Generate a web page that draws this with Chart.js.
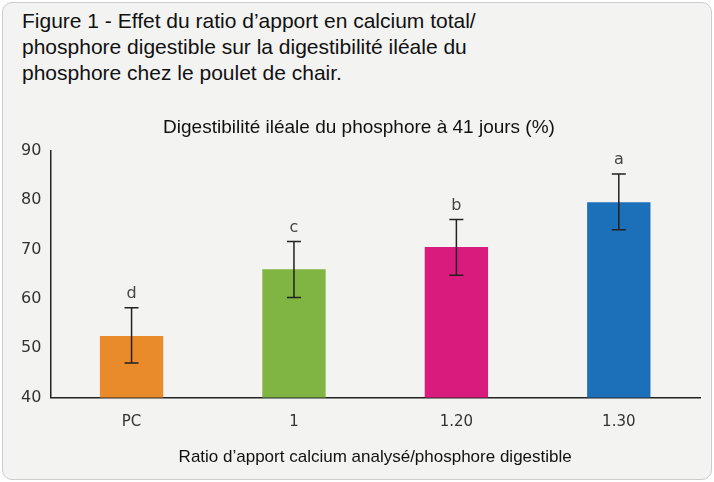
<!DOCTYPE html>
<html><head><meta charset="utf-8">
<script src="https://cdn.jsdelivr.net/npm/chart.js@4"></script>
<style>
html,body{margin:0;padding:0;background:#fff;}
#wrap{position:absolute;left:2px;top:2px;width:708px;height:476px;background:#f3f3f1;border:1px solid #ccc;border-radius:10px;}
#ft{position:absolute;left:22px;top:8px;font-family:"Liberation Sans",Arial,sans-serif;font-size:21px;line-height:26px;color:#111;}
canvas{position:absolute;left:0;top:0;}
</style></head><body>
<div id="wrap"></div>
<div id="ft">Figure 1 - Effet du ratio d’apport en calcium total/<br>phosphore digestible sur la digestibilité iléale du<br>phosphore chez le poulet de chair.</div>
<canvas id="c" width="714" height="482"></canvas>
<script>
const categories=["PC","1","1.20","1.30"];
const values=[52.5,66,70.5,79.6];
const errLow=[47,60.3,64.8,74];
const errHigh=[58.2,71.6,76.1,85.3];
const letters=["d","c","b","a"];
const colors=["#e98b2a","#80b443","#d81b7c","#1b70b9"];
const errPlugin={id:'err',afterDatasetsDraw(ch){
 const ctx=ch.ctx,y=ch.scales.y,meta=ch.getDatasetMeta(0);
 ctx.save();ctx.strokeStyle="#222";ctx.lineWidth=1.5;
 meta.data.forEach((b,i)=>{const x=b.x,y1=y.getPixelForValue(errHigh[i]),y2=y.getPixelForValue(errLow[i]);
  ctx.beginPath();ctx.moveTo(x,y1);ctx.lineTo(x,y2);ctx.moveTo(x-7,y1);ctx.lineTo(x+7,y1);ctx.moveTo(x-7,y2);ctx.lineTo(x+7,y2);ctx.stroke();
  ctx.fillStyle="#444";ctx.font="16px 'DejaVu Sans',sans-serif";ctx.textAlign="center";ctx.textBaseline="bottom";ctx.fillText(letters[i],x,y1-6);});
 ctx.restore();}};
new Chart(document.getElementById('c'),{type:'bar',
 data:{labels:categories,datasets:[{data:values,backgroundColor:colors,barPercentage:0.39,categoryPercentage:1}]},
 options:{responsive:false,animation:false,
  layout:{padding:{top:116,left:18,right:14,bottom:10}},
  plugins:{legend:{display:false},tooltip:{enabled:false},
   title:{display:true,text:"Digestibilité iléale du phosphore à 41 jours (%)",color:"#111",font:{family:"Liberation Sans",size:19,weight:'normal'},padding:{top:0,bottom:12}}},
  scales:{
   x:{grid:{display:false},border:{color:"#222",width:1.5},ticks:{color:"#333",font:{family:"DejaVu Sans",size:15},padding:8},
      title:{display:true,text:"Ratio d’apport calcium analysé/phosphore digestible",color:"#111",font:{family:"Liberation Sans",size:17},padding:{top:8}}},
   y:{min:40,max:90,ticks:{stepSize:10,color:"#333",font:{family:"DejaVu Sans",size:16}},grid:{display:false,drawOnChartArea:false,drawTicks:true,tickLength:6,color:"#222"},border:{color:"#222",width:1.5}}
  }},plugins:[errPlugin]});
</script></body></html>
